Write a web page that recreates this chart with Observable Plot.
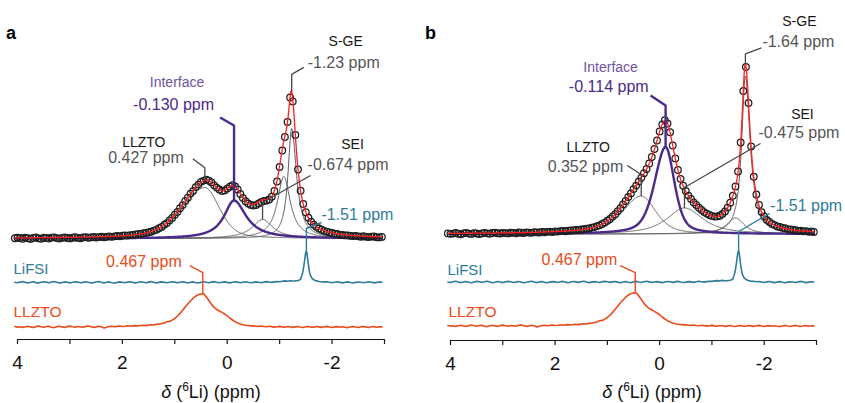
<!DOCTYPE html>
<html>
<head>
<meta charset="utf-8">
<script src="https://cdn.jsdelivr.net/npm/d3@7"></script>
<script src="https://cdn.jsdelivr.net/npm/@observablehq/plot@0.6"></script>
<style>
  body { margin: 0; background: #fff; font-family: "Liberation Sans", Arial, sans-serif; }
  #fig { display: flex; width: 845px; height: 403px; }
</style>
</head>
<body>
<div id="fig"></div>
<script>
// ---------------------------------------------------------------------------
// 6Li MAS NMR spectra. Chemical shift grid: 4.05 ppm down to -2.95 ppm, 0.05 ppm step.
// Intensities are in arbitrary units.
// ---------------------------------------------------------------------------
const gridStart = 4.05, gridStep = 0.05, gridCount = 141;

// (a) measured spectrum of the composite (open circles)
const spectrumA = [
  0.3, 0.8, 0.5, -0.2, 0.9, 0.3, -0.4, 0.6, 1.1, 0.2,          // 4.05 … 3.60
  -0.3, 0.8, 0.5, 0, 0.9, 1.2, 0.4, -0.1, 0.7, 1.1,            // 3.55 … 3.10
  0.5, 0.1, 0.8, 1.3, 0.6, 0.3, 1.0, 1.4, 0.8, 1.1,            // 3.05 … 2.60
  1.6, 1.0, 1.4, 1.8, 1.3, 1.7, 2.1, 1.7, 2.2, 2.6,            // 2.55 … 2.10
  2.2, 2.8, 3.1, 2.9, 3.4, 3.7, 4.0, 4.4, 4.6, 5.3,            // 2.05 … 1.60
  5.5, 6.3, 6.8, 7.9, 8.7, 10.3, 11.6, 13.8, 15.4, 18.1,       // 1.55 … 1.10
  20.6, 23.8, 26.5, 30.3, 33.4, 37.6, 40.8, 44.9, 47.6, 51.4,  // 1.05 … 0.60
  53.9, 56.7, 57.9, 58.8, 57.8, 56.1, 53.2, 50.9, 49.0, 47.6,  // 0.55 … 0.10
  48.1, 49.9, 51.8, 53.4, 52.0, 49.0, 44.6, 40.5, 37.3, 35.0,  // 0.05 … -0.40
  33.6, 33.0, 33.4, 35.1, 36.5, 37.5, 37.9, 39.0, 41.8, 47.5,  // -0.45 … -0.90
  57.0, 71.5, 88.0, 101.5, 116.5, 141.0, 137.0, 103.5, 69.0, 47.8, // -0.95 … -1.40
  34.5, 26.3, 20.8, 16.9, 13.8, 11.7, 10.0, 8.8, 7.5, 6.9,     // -1.45 … -1.90
  6.0, 5.6, 4.8, 4.5, 3.7, 3.6, 3.1, 3.2, 2.6, 2.4,            // -1.95 … -2.40
  2.6, 2.2, 1.8, 2.3, 1.7, 1.4, 1.9, 2.0, 1.3, 1.1,            // -2.45 … -2.90
  1.6                                                          // -2.95
];

// (b) measured spectrum of the composite (open circles)
const spectrumB = [
  0.6, 0.2, 0.4, 1.0, 0.3, -0.2, 0.7, 1.1, 0.4, 0.1,
  0.9, 0.5, -0.1, 0.6, 1.2, 0.7, 0.3, 1.0, 1.4, 0.8,
  0.5, 1.2, 0.9, 0.6, 1.4, 1.1, 0.7, 1.5, 1.3, 1.0,
  1.7, 1.4, 1.2, 1.9, 1.6, 1.5, 2.1, 1.8, 2.2, 2.4,
  2.0, 2.6, 2.4, 2.9, 3.0, 2.8, 3.4, 3.5, 3.7, 4.0,
  4.1, 4.6, 4.8, 5.4, 5.6, 6.4, 6.9, 7.9, 8.7, 10.1,
  11.4, 13.3, 15.0, 17.5, 19.8, 22.9, 25.8, 29.6, 33.0, 37.0,
  40.6, 44.9, 48.4, 52.6, 56.3, 60.8, 65.0, 70.6, 77.0, 85.0,
  93.5, 102.6, 109.5, 113.8, 110.5, 101.8, 88.5, 75.6, 64.0, 55.2,
  48.3, 43.0, 38.4, 35.0, 31.6, 29.0, 26.3, 24.1, 21.9, 20.4,
  19.0, 18.1, 17.4, 17.6, 18.3, 20.1, 22.5, 26.4, 31.3, 38.3,
  47.6, 62.5, 91.5, 143.0, 167.0, 131.0, 87.5, 57.3, 39.5, 29.0,
  21.9, 17.5, 14.1, 12.0, 10.0, 8.9, 7.5, 7.0, 6.1, 5.8,
  4.9, 4.7, 4.0, 3.9, 3.2, 3.4, 2.7, 2.9, 2.2, 2.5,
  2.0
];

// Reference spectrum: LLZTO powder
const llztoRef = [
  0.5, -0.1, 0.3, -0.4, 0.2, 0.8, 0.1, -0.5, 0.4, 0.9,
  0.2, -0.3, 0.5, 0.7, -0.2, -0.6, 0.3, 0.8, 0.1, -0.4,
  0.4, 0.9, 0.3, -0.2, 0.5, 0.2, -0.3, 0.6, 0.9, 0.2,
  -0.4, 0.1, 0.7, 0.3, -1.0, -0.2, 0.5, 0.8, 0.3, 0.6,
  1.0, 0.5, 0.8, 1.2, 0.7, 1.1, 1.4, 1.0, 1.5, 1.8,
  1.4, 1.9, 2.2, 2.0, 2.6, 3.0, 3.4, 4.1, 5.2, 5.6,
  6.8, 8.5, 10.8, 13.6, 16.8, 20.0, 23.2, 26.0, 28.8, 30.8,
  32.4, 33.0, 33.3, 30.2, 26.5, 22.6, 19.6, 17.5, 16.0, 14.6,
  13.0, 11.2, 9.0, 7.0, 5.3, 4.0, 3.0, 2.3, 1.8, 1.5,
  1.1, 1.3, 0.8, 0.6, 1.0, 0.5, 0.2, 0.7, 0.4, -0.1,
  0.3, 0.6, 0.1, -0.3, 0.4, 0.2, -0.4, 0.1, 0.5, -0.2,
  -0.5, 0.2, 0.4, -0.3, -0.1, 0.5, 0.1, -0.4, 0.2, 0.6,
  0, -0.5, 0.1, 0.4, -0.2, 0.3, -0.3, -0.6, 0.1, 0.5,
  0, -0.4, 0.3, 0.6, -0.1, -0.5, 0.2, 0.4, -0.2, 0.3,
  0.1
];

// Reference spectrum: LiFSI salt (coarse grid) ...
const lifsiCoarse = [
  0.2, -0.3, 0.4, 0.9, 0.1, -0.4, 0.3, 0.7, -0.1, -0.6,
  0.2, 0.8, 0.4, -0.2, 0.5, 1.0, 0.3, -0.5, -0.1, 0.6,
  0.2, -0.4, 0.3, 0.8, 0.4, -0.3, 0.1, 0.7, 0.2, -0.5,
  -0.1, 0.5, 0.9, 0.2, -0.4, 0.3, 0.6, -0.2, -0.6, 0.1,
  0.6, 0.3, -0.3, 0.4, 0.8, 0.1, -0.5, 0.2, 0.7, 0.3,
  -0.2, 0.4, 0.9, 0.2, -0.4, 0.1, 0.6, 0.2, -0.3, 0.3,
  0.8, 0.4, -0.2, 0.3, 0.7, 0.1, -0.5, 0.2, 0.6, -0.1,
  -0.4, 0.3, 0.8, 0.2, -0.3, 0.4, 0.9, 0.3, -0.2, 0.2,
  0.6, 0.1, -0.4, 0.2, 0.7, 0.4, -0.2, 0.3, 0.8, 0.2,
  -0.3, 0.1, 0.6, 0.3, -0.2, 0.4, 0.9, 0.5, 0.1, 0.6,
  1.0, 0.8, 1.3, 1.6, 1.3, 1.8, 1.5, 1.6, 2.0, 3.0,
  13.0, 30.0, 17.0, 5.0, 2.6, 1.6, 1.0, 0.8, 0.4, 0.7,
  0.2, -0.3, 0.3, 0.7, 0.1, -0.4, 0.2, 0.6, 0, -0.5,
  0.1, 0.5, 0.2, -0.3, 0.3, 0.8, 0.2, -0.4, 0.1, 0.5,
  0.2
];
// ... and its narrow line, sampled finely
const lifsiPeakPpm = [-1.41, -1.43, -1.45, -1.47, -1.49, -1.50, -1.51, -1.52, -1.53, -1.55, -1.57, -1.59, -1.62, -1.66];
const lifsiPeakInt = [5.0, 8.0, 12.5, 19.5, 27.5, 30.5, 31.3, 29.8, 25.5, 17.0, 10.5, 6.8, 4.0, 2.4];

// Peak fits (split pseudo-Voigt): LLZTO, interface, SEI, shoulder, S-GE
const fitNames = ["LLZTO", "Interface", "SEI", "shoulder", "S-GE"];
const centerA  = [0.427, -0.130, -0.674, -1.08, -1.23];
const heightA  = [51, 38, 19, 62, 110];
const hwhmLA   = [0.50, 0.23, 0.24, 0.15, 0.085];
const hwhmRA   = [0.33, 0.28, 0.24, 0.15, 0.11];
const lorentzA = [0.4, 1, 1, 1, 1];

const centerB  = [0.352, -0.114, -0.475, -1.45, -1.64];
const heightB  = [38, 87, 26, 16, 158];
const hwhmLB   = [0.42, 0.25, 0.40, 0.20, 0.085];
const hwhmRB   = [0.33, 0.20, 0.42, 0.20, 0.11];
const lorentzB = [0.5, 0.5, 0.8, 0.8, 1];
const labelDecimals = [3, 3, 3, null, 2];

const lifsiShift = -1.51, llztoShift = 0.467;
const xTicks = [4, 3, 2, 1, 0, -1, -2, -3];

// ---------------------------------------------------------------------------
const ppmGrid = d3.range(gridCount).map(i => +(gridStart - i * gridStep).toFixed(2));
const finePpm = d3.range(1401).map(i => +(4.05 - i * 0.005).toFixed(3));

const lifsiPoints = ppmGrid
  .map((p, i) => ({p, v: lifsiCoarse[i]}))
  .filter(d => d.p >= -1.405 || d.p <= -1.675)
  .concat(lifsiPeakPpm.map((p, i) => ({p, v: lifsiPeakInt[i]})))
  .sort((a, b) => b.p - a.p);

function pseudoVoigt(p, c, h, wl, wr, eta) {
  const w = p >= c ? wl : wr;
  const r2 = ((p - c) / w) ** 2;
  return h * (eta / (1 + r2) + (1 - eta) * Math.exp(-Math.LN2 * r2));
}

const C = {
  ink: "#161616", grey: "#555", comp: "#5a5a5a", circle: "#1e1e1e", fit: "#ff1f1f",
  purple: "#4b2a8c", purpleLight: "#6f52a3", blue: "#2e7b9c", orange: "#ea4a1c", leader: "#474747"
};

function buildPanel(o) {
  const fit = o.fit;
  const pxPerPpm = (o.width - o.ml - o.mr) / 7;
  const comp = (k, p) => pseudoVoigt(p, fit.center[k], fit.height[k], fit.hwhmL[k], fit.hwhmR[k], fit.lorentz[k]);
  const total = p => fit.center.reduce((s, _, k) => s + comp(k, p), 0);
  const {main, lifsi, llzto} = o.offsets;

  const marks = [];
  // axis
  marks.push(Plot.ruleY([0], {stroke: C.ink, strokeWidth: 1.2}));
  marks.push(Plot.axisX({
    ticks: xTicks, tickFormat: d => (d % 2 === 0 ? String(d) : ""),
    tickSize: 5, tickPadding: 11, fontSize: 19, label: null,
    stroke: C.ink, strokeWidth: 1.2, fill: "#111"
  }));

  // fitted components
  fit.center.forEach((_, k) => {
    if (k === 1) return;
    marks.push(Plot.line(finePpm, {x: p => p, y: p => main + comp(k, p), stroke: C.comp, strokeWidth: 1}));
  });
  marks.push(Plot.line(finePpm, {x: p => p, y: p => main + comp(1, p), stroke: C.purple, strokeWidth: 2.4}));

  // measured data and overall fit
  marks.push(Plot.dot(ppmGrid, {x: p => p, y: (p, i) => main + o.spectrum[i], r: 3.3,
    stroke: C.circle, strokeWidth: 1.25, fill: "none"}));
  marks.push(Plot.line(finePpm, {x: p => p, y: p => main + total(p), stroke: C.fit, strokeWidth: 1.3}));

  // reference spectra
  marks.push(Plot.line(lifsiPoints, {x: "p", y: d => lifsi + d.v, stroke: C.blue, strokeWidth: 1.6}));
  marks.push(Plot.line(ppmGrid, {x: p => p, y: (p, i) => llzto + llztoRef[i], stroke: C.orange, strokeWidth: 1.6}));

  // trace names
  marks.push(Plot.text([4], {x: d => d, y: () => lifsi, text: () => "LiFSI", dx: o.sideDx[0], dy: o.sideDy[0],
    textAnchor: "start", lineAnchor: "bottom", fill: C.blue, fontSize: 15}));
  marks.push(Plot.text([4], {x: d => d, y: () => llzto, text: () => "LLZTO", dx: o.sideDx[1], dy: o.sideDy[1],
    textAnchor: "start", lineAnchor: "bottom", fill: C.orange, fontSize: 15.5}));

  // leader lines with their labels
  const annotate = (ppm, base, g, stroke, strokeWidth, labels) => {
    const y1 = base + g.rise;
    const end = {x: ppm - g.run / pxPerPpm, y: y1 + g.climb};
    marks.push(Plot.line([{x: ppm, y: base}, {x: ppm, y: y1}, end],
      {x: "x", y: "y", stroke, strokeWidth, strokeLinejoin: "miter", strokeLinecap: "butt"}));
    labels.forEach(l => marks.push(Plot.text([end], {x: "x", y: "y", text: () => l.text, dx: l.dx, dy: -l.up,
      textAnchor: l.anchor, lineAnchor: "bottom", fill: l.fill, fontSize: l.size})));
  };

  o.peaks.forEach(g => {
    const k = g.comp;
    const ppm = fit.center[k];
    const base = main + (g.onTotal ? total(ppm) : comp(k, ppm));
    const value = `${ppm.toFixed(labelDecimals[k])} ppm`;
    const purple = k === 1;
    annotate(ppm, base, g, purple ? C.purple : C.leader, purple ? 2.4 : 1.3, [
      {text: value, dx: g.value[0], up: g.value[1], anchor: g.value[2], fill: purple ? C.purple : C.grey, size: 16},
      {text: fitNames[k], dx: g.name[0], up: g.name[1], anchor: "middle", fill: purple ? C.purpleLight : C.ink, size: 14}
    ]);
  });

  const lifsiTop = d3.max(lifsiPeakInt);
  annotate(lifsiShift, lifsi + lifsiTop, o.lifsiLeader, C.blue, 1.4, [
    {text: `${lifsiShift.toFixed(2)} ppm`, dx: o.lifsiLeader.value[0], up: o.lifsiLeader.value[1], anchor: "start", fill: C.blue, size: 16}
  ]);
  const llztoTop = d3.max(llztoRef);
  annotate(llztoShift, llzto + llztoTop, o.llztoLeader, C.orange, 1.4, [
    {text: `${llztoShift.toFixed(3)} ppm`, dx: o.llztoLeader.value[0], up: o.llztoLeader.value[1], anchor: "end", fill: C.orange, size: 16}
  ]);

  const svg = Plot.plot({
    width: o.width, height: 403,
    marginLeft: o.ml, marginRight: o.mr, marginTop: 0, marginBottom: 403 - o.axisY,
    x: {domain: [4, -3]},
    y: {domain: [0, o.axisY], axis: null},
    style: {fontFamily: "'Liberation Sans', Arial, sans-serif", background: "white", overflow: "visible"},
    marks
  });

  const s = d3.select(svg);
  s.append("text").attr("x", o.letterX).attr("y", 39).attr("font-size", 18).attr("font-weight", "bold")
    .attr("fill", "#000").text(o.letter);
  const t = s.append("text").attr("x", o.titleX).attr("y", 398).attr("text-anchor", "middle")
    .attr("font-size", 18).attr("fill", "#111");
  t.append("tspan").attr("font-style", "italic").text("δ");
  t.append("tspan").text(" (");
  t.append("tspan").attr("font-size", 12).attr("dy", -7).text("6");
  t.append("tspan").attr("dy", 7).text("Li) (ppm)");
  return svg;
}

const fig = document.getElementById("fig");

fig.appendChild(buildPanel({
  letter: "a", letterX: 11, titleX: 211,
  width: 422, ml: 17, mr: 38, axisY: 339,
  offsets: {main: 101, lifsi: 57, llzto: 12.5},
  spectrum: spectrumA,
  fit: {center: centerA, height: heightA, hwhmL: hwhmLA, hwhmR: hwhmRA, lorentz: lorentzA},
  sideDx: [-4, -4], sideDy: [-9, -10.5],
  peaks: [
    {comp: 4, onTotal: true,  rise: 17,   run: 12,  climb: 7,  value: [4, -1, "start"],  name: [42, 21]},
    {comp: 1, onTotal: false, rise: 75,   run: -14, climb: 8,  value: [-6, 8, "end"],    name: [-43, 30.5]},
    {comp: 0, onTotal: true,  rise: 12.5, run: -12, climb: 9,  value: [-9, -4.5, "end"], name: [-49, 11.5]},
    {comp: 2, onTotal: false, rise: 17,   run: 48,  climb: 27, value: [-3, 6, "start"],  name: [42, 27]}
  ],
  lifsiLeader: {rise: 22.7, run: 15, climb: 6, value: [0, 3]},
  llztoLeader: {rise: 21, run: -13, climb: 7, value: [-8, -1]}
}));

fig.appendChild(buildPanel({
  letter: "b", letterX: 8.5, titleX: 230,
  width: 423, ml: 28, mr: 29, axisY: 340,
  offsets: {main: 106.5, lifsi: 58.3, llzto: 14.5},
  spectrum: spectrumB,
  fit: {center: centerB, height: heightB, hwhmL: hwhmLB, hwhmR: hwhmRB, lorentz: lorentzB},
  sideDx: [-3, -2], sideDy: [-7.7, -9.5],
  peaks: [
    {comp: 4, onTotal: true,  rise: 10,   run: 16,  climb: 6,  value: [1, 1, "start"],   name: [38, 22]},
    {comp: 1, onTotal: false, rise: 41.5, run: -15, climb: 10, value: [-2, 3.5, "end"],  name: [-40, 24]},
    {comp: 0, onTotal: false, rise: 21.5, run: -14, climb: 9,  value: [-4, -6.5, "end"], name: [-39, 13.5]},
    {comp: 2, onTotal: false, rise: 20.5, run: 76,  climb: 44, value: [-2, 6, "start"],  name: [42, 25]}
  ],
  lifsiLeader: {rise: 19.4, run: 31, climb: 18, value: [0.5, 3]},
  llztoLeader: {rise: 20, run: -15, climb: 7, value: [-3, 1]}
}));
</script>
</body>
</html>
